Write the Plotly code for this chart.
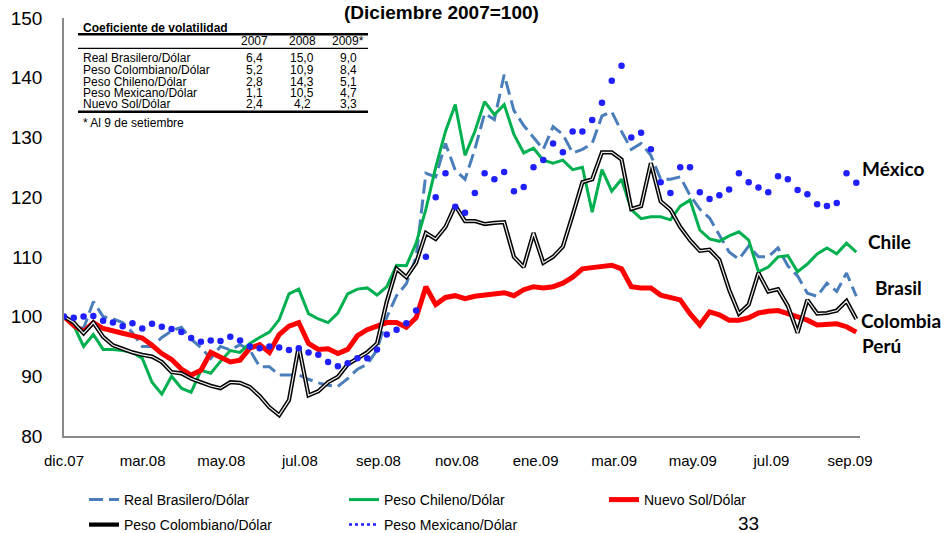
import numpy as np
import plotly.graph_objects as go

# Axis labels (category axis, one label every ~43 trading days)
tick_labels = ["dic.07", "mar.08", "may.08", "jul.08", "sep.08", "nov.08",
               "ene.09", "mar.09", "may.09", "jul.09", "sep.09"]

# Exchange-rate indices (Dec 2007 = 100), roughly weekly observations
brasil = [100, 98.6, 98, 102.5, 100, 99.6, 99, 97.3, 95, 95,
          96.5, 97.6, 98.2, 96.2, 94.8, 93, 95, 94.4, 95.3, 94.4,
          91.6, 91.6, 90.2, 90.2, 90.2, 89.5, 88.9, 88.5, 88.3, 89.6,
          91.2, 92, 94.4, 99.9, 103.5, 105.5, 110, 124, 123.4, 129,
          124.5, 123, 128, 134, 133, 140.5, 134.5, 132, 130, 128,
          131.8, 130.5, 127.4, 128, 129, 133.6, 134.3, 131, 128, 129,
          127, 123, 123, 123.4, 120.3, 118, 116.5, 113.6, 110.8, 109.6,
          111.8, 110, 110, 111.5, 108.5, 106.8, 103.9, 103.4, 105.6, 104.2,
          107.3, 103.4]

chile = [100, 98.5, 95, 97, 94.5, 94.5, 94.3, 94, 93, 89,
         87, 90, 88, 87.3, 91, 90.5, 92.5, 94.3, 94, 95.5,
         96.5, 97.4, 99.5, 103.8, 104.6, 100.5, 99.6, 99, 100.6, 103.8,
         104.6, 104.8, 103.6, 105, 108.6, 108.5, 112.3, 118, 125, 131,
         135.5, 127, 131, 136, 133.8, 135.5, 130.5, 127.4, 128.2, 126.2,
         125.7, 126.2, 124.6, 125, 117.5, 124.6, 121, 123, 117.9, 116.4,
         116.7, 116.7, 116.2, 118.5, 119.5, 114.5, 113, 112.6, 113.5, 114.2,
         112.8, 107.5, 108.3, 110, 110.2, 107.5, 108.8, 110.5, 111.5, 110.5,
         112.3, 110.8]

peru = [100, 98.5, 97.5, 99, 98, 97.5, 97.2, 96.8, 96.4, 95.2,
        93.8, 92.8, 91.2, 90.2, 91, 94, 93.2, 92.4, 92.7, 94.7,
        95.3, 94, 97, 98.4, 99, 95.5, 94.5, 94.6, 93.8, 94.5,
        96.8, 97.8, 98.4, 99, 99, 98.2, 99.8, 105, 102, 103.2,
        103.5, 103, 103.4, 103.6, 103.9, 104, 103.5, 104.5, 105, 104.8,
        105, 105.6, 106.6, 108, 108.2, 108.4, 108.6, 108, 105, 104.8,
        104.8, 103.6, 103.2, 102.8, 100.5, 98.6, 100.8, 100.3, 99.4, 99.4,
        99.8, 100.6, 100.9, 101, 100.5, 100, 99.4, 98.6, 98.6, 98.8,
        98.3, 97.4]

colombia = [100, 99, 97.2, 99, 96.6, 95.2, 94.6, 94, 93.6, 93.3,
            92.4, 90.7, 90.5, 89.6, 89, 88.4, 88, 89, 88.9, 88.2,
            86.7, 84.8, 83.5, 86, 95, 86.8, 87.5, 89, 89.9, 92,
            93, 94, 95.5, 102.5, 108, 106.6, 109, 114, 113, 115,
            118.6, 116, 116, 115.5, 115.7, 115.8, 110, 108.3, 114, 109,
            110, 111.7, 117, 122.5, 123, 127.5, 127.5, 126.3, 118, 118.5,
            125.7, 119.3, 117.9, 115, 112.8, 111, 111.2, 109.5, 104.5, 100.5,
            102, 107.3, 104.2, 104.6, 101.8, 97.3, 102.8, 100.5, 100.6, 101,
            102.6, 99.6]

mexico = [100, 99.8, 100, 100.1, 99.3, 99, 98.4, 98.9, 98, 98.8,
          98.3, 97.9, 97.4, 96.4, 95.8, 96, 95.9, 96.6, 96, 95,
          94.7, 95, 94.8, 94.4, 94.7, 94, 93.6, 92.4, 91.7, 92.2,
          93, 93, 94.5, 97, 97.8, 98.9, 101, 110, 120, 124,
          118.4, 117.4, 120.7, 124, 123, 124.2, 121, 121.7, 125, 126.2,
          129, 127.5, 131, 131, 132.9, 135.8, 139.5, 142, 130, 130.8,
          128, 122.5, 120.7, 125, 125, 120.8, 119.7, 120.3, 121.3, 124,
          122.5, 121.6, 120.8, 123.5, 123, 121.2, 120.5, 118.8, 118.5, 119,
          124, 122.4]

# Volatility table
vol_names = ["Real Brasilero/Dólar", "Peso Colombiano/Dólar", "Peso Chileno/Dólar",
             "Peso Mexicano/Dólar", "Nuevo Sol/Dólar"]
vol_years = ["2007", "2008", "2009*"]
vol_2007 = ["6,4", "5,2", "2,8", "1,1", "2,4"]
vol_2008 = ["15,0", "10,9", "14,3", "10,5", "4,2"]
vol_2009 = ["9,0", "8,4", "5,1", "4,7", "3,3"]

end_labels = ["México", "Chile", "Brasil", "Colombia", "Perú"]

# Observation positions along the category axis
n = len(brasil)
t = np.linspace(0, 10.08, n)

W, H = 946, 533
ML, MR, MT, MB = 64, 86, 18, 97
PW, PH = W - ML - MR, H - MT - MB


def px(x):
    return (x - ML) / PW


def py(y):
    return (H - MB - y) / PH


FONT = "Liberation Sans, Arial, sans-serif"

fig = go.Figure()

fig.add_trace(go.Scatter(
    x=t, y=brasil, mode="lines", name="Real Brasilero/Dólar", legend="legend",
    line=dict(color="#4A7EBB", width=3, dash="14px,6px")))
fig.add_trace(go.Scatter(
    x=t, y=chile, mode="lines", name="Peso Chileno/Dólar", legend="legend",
    line=dict(color="#00B050", width=3)))
fig.add_trace(go.Scatter(
    x=t, y=peru, mode="lines", name="Nuevo Sol/Dólar", legend="legend",
    line=dict(color="#FF0000", width=5)))
# double line: black outline with a light core
fig.add_trace(go.Scatter(
    x=t, y=colombia, mode="lines", name="Peso Colombiano/Dólar", legend="legend2",
    line=dict(color="#000000", width=4.2)))
fig.add_trace(go.Scatter(
    x=t, y=colombia, mode="lines", showlegend=False, hoverinfo="skip",
    line=dict(color="#EDEDED", width=1.2)))
fig.add_trace(go.Scatter(
    x=t, y=mexico, mode="markers", showlegend=False, name="Peso Mexicano/Dólar",
    marker=dict(color="#1F1FFF", size=6.5, line=dict(width=0))))
fig.add_trace(go.Scatter(
    x=[None], y=[None], mode="lines", name="Peso Mexicano/Dólar", legend="legend2",
    line=dict(color="#1F1FFF", width=2.5, dash="dot")))

annotations = []


def note(x, y, text, size=12, anchor="left", family=FONT):
    annotations.append(dict(x=px(x), y=py(y), xref="paper", yref="paper",
                            text=text, showarrow=False,
                            font=dict(family=family, size=size, color="black"),
                            xanchor=anchor, yanchor="middle"))


# Title
note(441, 12, "<b>(Diciembre 2007=100)</b>", size=19, anchor="center")

# Table
note(81, 28, "<b>Coeficiente de volatilidad</b>")
col_x = [254, 302, 348]
for cx, yr in zip(col_x, vol_years):
    note(cx, 41, yr, anchor="center")
row_y = [58, 70, 81.5, 93, 104.3]
for i, name in enumerate(vol_names):
    note(81, row_y[i], name)
    for cx, val in zip(col_x, (vol_2007[i], vol_2008[i], vol_2009[i])):
        note(cx, row_y[i], val, anchor="center")
note(81, 122.5, "* Al 9 de setiembre")

# Series labels at the right end
label_pos = [(860, 168), (866, 241), (873, 287), (859, 320), (860, 345)]
for lab, (lx, ly) in zip(end_labels, label_pos):
    note(lx, ly, "<b>" + lab + "</b>", size=19, family="Lato, sans-serif")

# Page number
note(748, 523, "33", size=19, anchor="center")

shapes = [
    dict(type="line", xref="paper", yref="paper", x0=px(78), x1=px(368),
         y0=py(34.3), y1=py(34.3), line=dict(color="black", width=2.5)),
    dict(type="line", xref="paper", yref="paper", x0=px(78), x1=px(368),
         y0=py(48.3), y1=py(48.3), line=dict(color="black", width=1.2)),
    dict(type="line", xref="paper", yref="paper", x0=px(78), x1=px(368),
         y0=py(111.7), y1=py(111.7), line=dict(color="black", width=2.5)),
]

legend_style = dict(orientation="h", x=px(84), xanchor="left", yanchor="middle",
                    entrywidth=215, entrywidthmode="pixels",
                    font=dict(family=FONT, size=14, color="black"),
                    bgcolor="rgba(0,0,0,0)")

fig.update_layout(
    width=W, height=H,
    margin=dict(l=ML, r=MR, t=MT, b=MB, autoexpand=False),
    paper_bgcolor="white", plot_bgcolor="white",
    font=dict(family=FONT, color="black"),
    annotations=annotations, shapes=shapes,
    showlegend=True,
    legend=dict(y=py(500), **legend_style),
    legend2=dict(y=py(525), **legend_style),
    xaxis=dict(range=[0, PW / 78.6], tickvals=list(range(len(tick_labels))),
               ticktext=tick_labels, showgrid=False, zeroline=False,
               showline=True, linecolor="#898989", linewidth=1.5, ticks="",
               ticklabelstandoff=10,
               tickfont=dict(family=FONT, size=15, color="black")),
    yaxis=dict(range=[80, 150], tickvals=list(range(80, 151, 10)),
               showgrid=False, zeroline=False, showline=True,
               linecolor="#898989", linewidth=1.5, ticks="",
               ticklabelstandoff=16,
               tickfont=dict(family=FONT, size=19, color="black")),
)

fig.write_html("out.html")
